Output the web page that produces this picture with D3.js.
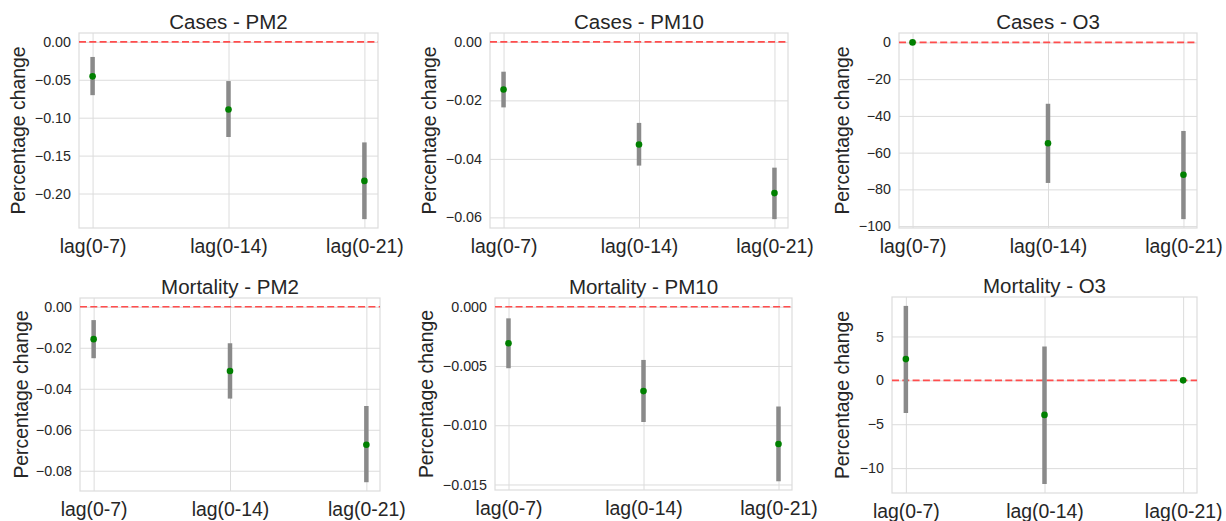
<!DOCTYPE html>
<html>
<head>
<meta charset="utf-8">
<script src="https://cdn.jsdelivr.net/npm/d3@7"></script>
<style>
  body { margin: 0; background: #fff; }
  svg { display: block; font-family: "Liberation Sans", Arial, sans-serif; }
</style>
</head>
<body>
<svg id="chart" width="1226" height="521"></svg>
<script>
// categories shared by every panel
const lags = ["lag(0-7)", "lag(0-14)", "lag(0-21)"];

const titles = [
  "Cases - PM2", "Cases - PM10", "Cases - O3",
  "Mortality - PM2", "Mortality - PM10", "Mortality - O3",
];

// point estimates, one row per panel (order of `titles`)
const estimates = [
  [-0.0455, -0.0893, -0.1834],
  [-0.0163, -0.0351, -0.0517],
  [0.0, -54.9, -72.0],
  [-0.0158, -0.0313, -0.0673],
  [-0.00308, -0.00712, -0.01158],
  [2.42, -3.94, 0.0],
];
// lower / upper ends of the interval bars
const ciLow = [
  [-0.0703, -0.1255, -0.2338],
  [-0.0224, -0.0423, -0.0606],
  [-0.3, -76.5, -96.2],
  [-0.0251, -0.0448, -0.0856],
  [-0.00519, -0.00973, -0.01473],
  [-3.72, -11.82, -0.1],
];
const ciHigh = [
  [-0.0199, -0.0517, -0.1326],
  [-0.0102, -0.0277, -0.0430],
  [0.3, -33.4, -48.2],
  [-0.0065, -0.0178, -0.0484],
  [-0.00098, -0.00449, -0.00842],
  [8.48, 3.86, 0.1],
];

// y tick values and their label formats
const yTicks = [
  [0, -0.05, -0.10, -0.15, -0.20],
  [0, -0.02, -0.04, -0.06],
  [0, -20, -40, -60, -80, -100],
  [0, -0.02, -0.04, -0.06, -0.08],
  [0, -0.005, -0.010, -0.015],
  [5, 0, -5, -10],
];
const yTickFormats = [".2f", ".2f", "d", ".2f", ".3f", "d"];

// axes boxes on the page (px) and the centre x of each y label
const LAYOUT = [
  { x0: 79,  x1: 378,  y0: 33,  y1: 228, labelX: 20 },
  { x0: 490, x1: 788,  y0: 33,  y1: 228, labelX: 431 },
  { x0: 899, x1: 1197, y0: 33,  y1: 228, labelX: 844 },
  { x0: 80,  x1: 380,  y0: 298, y1: 491, labelX: 22.5 },
  { x0: 495, x1: 792,  y0: 298, y1: 490, labelX: 427.5 },
  { x0: 892, x1: 1197, y0: 297, y1: 493, labelX: 844 },
];

const TEXT = "#262626";
const GRID = "#dcdcdc";

const svg = d3.select("#chart");

titles.forEach((title, p) => {
  const box = LAYOUT[p];
  const rows = lags.map((lag, i) => ({
    lag, est: estimates[p][i], lo: ciLow[p][i], hi: ciHigh[p][i],
  }));

  // matplotlib-style autoscale: data (incl. the zero line) plus 5% margin
  const lo = Math.min(0, d3.min(rows, d => d.lo));
  const hi = Math.max(0, d3.max(rows, d => d.hi));
  const pad = (hi - lo) * 0.05;

  const x = d3.scalePoint().domain(lags).range([box.x0, box.x1]).padding(0.1);
  const y = d3.scaleLinear().domain([lo - pad, hi + pad]).range([box.y1, box.y0]);
  const w = box.x1 - box.x0, h = box.y1 - box.y0;

  const g = svg.append("g").attr("class", "panel");

  // horizontal grid + y tick labels
  const yAxis = g.append("g")
    .attr("transform", `translate(${box.x0},0)`)
    .call(d3.axisLeft(y).tickValues(yTicks[p]).tickFormat(d3.format(yTickFormats[p]))
      .tickSize(-w).tickPadding(8));
  yAxis.select(".domain").remove();
  yAxis.selectAll(".tick line").attr("stroke", GRID).attr("stroke-width", 1);
  yAxis.selectAll(".tick text").attr("fill", TEXT).attr("font-size", 14.3);

  // vertical grid + category labels
  const xAxis = g.append("g")
    .attr("transform", `translate(0,${box.y1})`)
    .call(d3.axisBottom(x).tickSize(-h).tickPadding(0));
  xAxis.select(".domain").remove();
  xAxis.selectAll(".tick line").attr("stroke", GRID).attr("stroke-width", 1);
  xAxis.selectAll(".tick text").attr("fill", TEXT).attr("font-size", 19.4)
    .attr("y", 25).attr("dy", 0);

  // axes frame
  g.append("rect")
    .attr("x", box.x0).attr("y", box.y0).attr("width", w).attr("height", h)
    .attr("fill", "none").attr("stroke", GRID).attr("stroke-width", 1.2);

  // zero reference line
  g.append("line")
    .attr("x1", box.x0).attr("x2", box.x1)
    .attr("y1", y(0)).attr("y2", y(0))
    .attr("stroke", "#ff4d4d").attr("stroke-width", 1.6)
    .attr("stroke-dasharray", "7,3.3");

  // interval bars
  g.selectAll("line.ci").data(rows).join("line")
    .attr("class", "ci")
    .attr("x1", d => x(d.lag)).attr("x2", d => x(d.lag))
    .attr("y1", d => y(d.lo)).attr("y2", d => y(d.hi))
    .attr("stroke", "#8a8a8a").attr("stroke-width", 4.5);

  // estimates
  g.selectAll("circle.est").data(rows).join("circle")
    .attr("class", "est")
    .attr("cx", d => x(d.lag)).attr("cy", d => y(d.est))
    .attr("r", 3.3).attr("fill", "#008000");

  // title
  g.append("text")
    .attr("x", (box.x0 + box.x1) / 2).attr("y", box.y0 - 4)
    .attr("text-anchor", "middle").attr("fill", TEXT).attr("font-size", 20.5)
    .text(title);

  // y label
  g.append("text")
    .attr("transform", `translate(${box.labelX + 5},${(box.y0 + box.y1) / 2}) rotate(-90)`)
    .attr("text-anchor", "middle").attr("fill", TEXT).attr("font-size", 19.4)
    .text("Percentage change");
});
</script>
</body>
</html>
